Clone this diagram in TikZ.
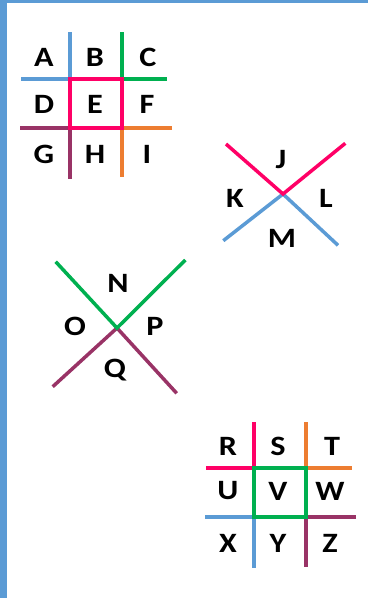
\documentclass[tikz,border=0pt]{standalone}
\usepackage{fontspec}
\setmainfont{Carlito}[FakeStretch=1.15]
\definecolor{cblue}{HTML}{5B9BD5}
\definecolor{cpink}{HTML}{FF0066}
\definecolor{cgreen}{HTML}{00B050}
\definecolor{corange}{HTML}{ED7D31}
\definecolor{cpurple}{HTML}{993366}
\begin{document}
\begin{tikzpicture}[x=1pt,y=-1pt,
  seg/.style={line width=3.5pt},
  lbl/.style={font=\bfseries\fontsize{28}{28}\selectfont, inner sep=0pt, text=black}]
\useasboundingbox (0,0) rectangle (368,598);
\fill[cblue] (0,0) rectangle (7.3,598);
\fill[cblue] (0,0) rectangle (368,2.7);
% grid 1
\draw[seg,cblue] (70,32) -- (70,79) -- (21,79);
\draw[seg,cgreen] (122,32) -- (122,79) -- (167,79);
\draw[seg,cpurple] (20,128) -- (70,128) -- (70,179);
\draw[seg,corange] (172,128) -- (122,128) -- (122,177);
\draw[seg,cpink] (70,79) rectangle (122,128);
\node[lbl] (A) at (44,57) {A};
\node[lbl] (B) at (95,57) {B};
\node[lbl] (C) at (148,57) {C};
\node[lbl] (D) at (44,104) {D};
\node[lbl] (E) at (95,104) {E};
\node[lbl] (F) at (147,104) {F};
\node[lbl] (G) at (44,154) {G};
\node[lbl] (H) at (95,154) {H};
\node[lbl] (I) at (147,154) {I};
% cross 1
\coordinate (c1) at (283,194);
\draw[seg,cblue] (223.3,240.7) -- (c1) -- (338,245.3);
\draw[seg,cpink] (226,144) -- (c1) -- (345.3,143.3);
\node[lbl] (J) at (281,160) {J};
\node[lbl] (K) at (235,198) {K};
\node[lbl] (L) at (326,198) {L};
\node[lbl] (M) at (282,238) {M};
% cross 2
\coordinate (c2) at (117,328);
\draw[seg,cpurple] (52.7,386.7) -- (c2) -- (176.7,393.3);
\draw[seg,cgreen] (55.7,261.7) -- (c2) -- (185.3,260);
\node[lbl] (N) at (118,283) {N};
\node[lbl] (O) at (75,326) {O};
\node[lbl] (P) at (155,326) {P};
\node[lbl] (Q) at (115,370) {Q};
% grid 2
\draw[seg,cpink] (254,422) -- (254,468) -- (205.7,468);
\draw[seg,corange] (306,422) -- (306,468) -- (351.7,468);
\draw[seg,cblue] (205,517) -- (254,517) -- (254,568.3);
\draw[seg,cpurple] (356,517) -- (306,517) -- (306,566.7);
\draw[seg,cgreen] (254,468) rectangle (306,517);
\node[lbl] (R) at (228,446) {R};
\node[lbl] (S) at (278,446) {S};
\node[lbl] (T) at (332,446) {T};
\node[lbl] (U) at (228,491) {U};
\node[lbl] (V) at (278,491) {V};
\node[lbl] (W) at (330,491) {W};
\node[lbl] (X) at (228,543) {X};
\node[lbl] (Y) at (278,543) {Y};
\node[lbl] (Z) at (330,543) {Z};
\end{tikzpicture}
\end{document}
